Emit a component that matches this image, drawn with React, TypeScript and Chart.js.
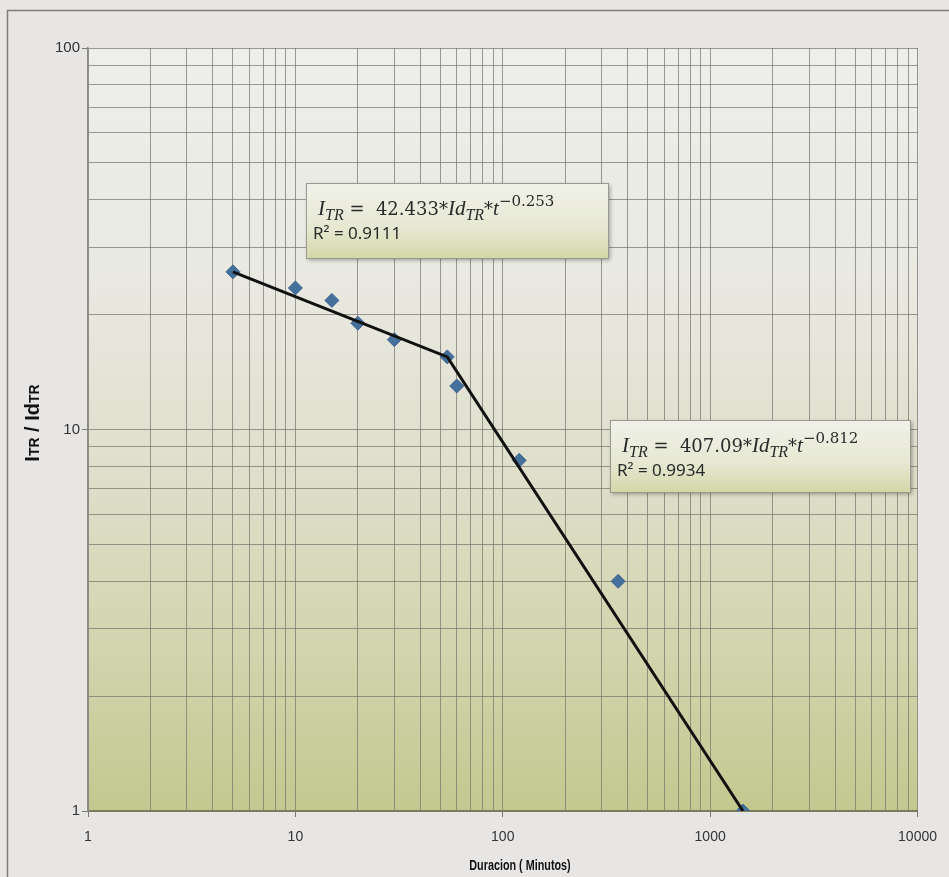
import React, { useEffect, useRef } from "react";
import { Chart, registerables } from "chart.js";
Chart.register(...registerables);

// ---- data ----
const durations = [5, 10, 15, 20, 30, 54, 60, 120, 360, 1440];
const ratios = [25.9, 23.5, 21.8, 19.0, 17.2, 15.5, 13.0, 8.3, 4.0, 1.0];
const fitDurations = [5, 54, 1440];
const fitRatios = [25.9, 15.5, 1.0];
const xMajorTicks = [1, 10, 100, 1000, 10000];
const yMajorTicks = [1, 10, 100];
const minorSteps = [1, 2, 3, 4, 5, 6, 7, 8, 9];
const fit1Coef = "42.433";
const fit1Exp = "\u22120.253";
const fit1R2 = "R\u00B2 = 0.9111";
const fit2Coef = "407.09";
const fit2Exp = "\u22120.812";
const fit2R2 = "R\u00B2 = 0.9934";
const xTitle = "Duracion ( Minutos)";

function buildTicks(majors: number[]) {
  const out: number[] = [];
  for (let i = 0; i < majors.length - 1; i++) {
    for (const m of minorSteps) out.push(m * majors[i]);
  }
  out.push(majors[majors.length - 1]);
  return out;
}

type Seg = { t: string; f: string; dy?: number };

function drawSegs(ctx: CanvasRenderingContext2D, segs: Seg[], x: number, y: number) {
  let cx = x;
  for (const s of segs) {
    ctx.font = s.f;
    ctx.fillText(s.t, cx, y + (s.dy || 0));
    cx += ctx.measureText(s.t).width;
  }
  return cx - x;
}

function eqSegs(coef: string, exp: string): Seg[] {
  const it = "italic 21px 'Liberation Serif', serif";
  const sub = "italic 16px 'Liberation Serif', serif";
  const up = "18px 'DejaVu Serif', serif";
  const sm = "15px 'DejaVu Serif', serif";
  return [
    { t: "I", f: it },
    { t: "TR", f: sub, dy: 5 },
    { t: " =  ", f: up },
    { t: coef, f: up },
    { t: "*", f: up },
    { t: "Id", f: it },
    { t: "TR", f: sub, dy: 5 },
    { t: "*", f: up },
    { t: "t", f: it },
    { t: exp, f: sm, dy: -9 },
  ];
}

const decorPlugin = {
  id: "decor",
  beforeDraw(chart: any) {
    const { ctx, chartArea: a, width, height } = chart;
    ctx.save();
    ctx.fillStyle = "#e8e6e5";
    ctx.fillRect(0, 0, width, height);
    ctx.strokeStyle = "#7d7d7d";
    ctx.lineWidth = 1.5;
    ctx.strokeRect(7.5, 10.5, width + 20, height + 20);
    const g = ctx.createLinearGradient(0, a.top, 0, a.bottom);
    g.addColorStop(0, "#eeeeeb");
    g.addColorStop(0.3, "#e9e9e2");
    g.addColorStop(0.55, "#dfdfcc");
    g.addColorStop(0.8, "#d1d4ac");
    g.addColorStop(1, "#c3c88f");
    ctx.fillStyle = g;
    ctx.fillRect(a.left, a.top, a.right - a.left, a.bottom - a.top);
    ctx.restore();
  },
  afterDraw(chart: any) {
    const { ctx, chartArea: a } = chart;
    ctx.save();
    const boxes = [
      { x: a.left + 218, y: a.top + 135, w: 302, h: 75, coef: fit1Coef, exp: fit1Exp, r2: fit1R2 },
      { x: a.left + 522, y: a.top + 372, w: 300, h: 72, coef: fit2Coef, exp: fit2Exp, r2: fit2R2 },
    ];
    for (const b of boxes) {
      ctx.save();
      ctx.shadowColor = "rgba(0,0,0,0.35)";
      ctx.shadowBlur = 4;
      ctx.shadowOffsetX = 2;
      ctx.shadowOffsetY = 2;
      const g = ctx.createLinearGradient(0, b.y, 0, b.y + b.h);
      g.addColorStop(0, "#f1f1ea");
      g.addColorStop(0.6, "#e6e8d2");
      g.addColorStop(1, "#d3d8a8");
      ctx.fillStyle = g;
      ctx.fillRect(b.x, b.y, b.w, b.h);
      ctx.restore();
      ctx.strokeStyle = "#9a9a90";
      ctx.lineWidth = 1;
      ctx.strokeRect(b.x + 0.5, b.y + 0.5, b.w, b.h);
      ctx.fillStyle = "#2a2a2a";
      ctx.textBaseline = "alphabetic";
      drawSegs(ctx, eqSegs(b.coef, b.exp), b.x + 12, b.y + 32);
      ctx.font = "17px 'Noto Sans', 'Liberation Sans', sans-serif";
      ctx.fillText(b.r2, b.x + 7, b.y + 56);
    }
    // y axis title
    ctx.save();
    ctx.translate(32, 423);
    ctx.rotate(-Math.PI / 2);
    ctx.fillStyle = "#111";
    const big = "bold 20px 'Liberation Sans', sans-serif";
    const small = "bold 14px 'Liberation Sans', sans-serif";
    const ysegs: Seg[] = [
      { t: "I", f: big },
      { t: "TR", f: small },
      { t: " / Id", f: big },
      { t: "TR", f: small },
    ];
    let tw = 0;
    for (const s of ysegs) {
      ctx.font = s.f;
      tw += ctx.measureText(s.t).width;
    }
    drawSegs(ctx, ysegs, -tw / 2, 7);
    ctx.restore();
    // x axis title (condensed)
    ctx.save();
    ctx.fillStyle = "#111";
    ctx.font = "bold 15px 'Liberation Sans', sans-serif";
    ctx.textAlign = "center";
    ctx.textBaseline = "middle";
    ctx.translate(520, 866);
    ctx.scale(0.72, 1);
    ctx.fillText(xTitle, 0, 0);
    ctx.restore();
    ctx.restore();
  },
};

export default function App() {
  const ref = useRef<HTMLCanvasElement | null>(null);
  useEffect(() => {
    if (!ref.current) return;
    const xTicks = buildTicks(xMajorTicks);
    const yTicks = buildTicks(yMajorTicks);
    const gridColor = "rgba(115,115,108,0.7)";
    const chart = new Chart(ref.current, {
      type: "scatter",
      data: {
        datasets: [
          {
            type: "line",
            data: fitDurations.map((x, i) => ({ x, y: fitRatios[i] })),
            borderColor: "#111",
            borderWidth: 3,
            pointRadius: 0,
            fill: false,
          },
          {
            type: "scatter",
            data: durations.map((x, i) => ({ x, y: ratios[i] })),
            pointStyle: "rectRot",
            pointRadius: 7,
            backgroundColor: "#46709c",
            borderColor: "#3f6690",
            borderWidth: 1,
          },
        ],
      } as any,
      options: {
        animation: false,
        responsive: true,
        maintainAspectRatio: false,
        layout: { padding: { left: 0, top: 48, right: 28, bottom: 0 } },
        plugins: { legend: { display: false }, tooltip: { enabled: false } },
        scales: {
          x: {
            type: "logarithmic",
            min: 1,
            max: 10000,
            afterFit: (s: any) => {
              s.height = 66;
            },
            afterBuildTicks: (s: any) => {
              s.ticks = xTicks.map((v) => ({ value: v }));
            },
            ticks: {
              autoSkip: false,
              maxRotation: 0,
              padding: 12,
              color: "#333",
              font: { family: "'Liberation Sans', sans-serif", size: 14 },
              callback: (v: any) => (xMajorTicks.includes(Number(v)) ? String(v) : ""),
            },
            grid: {
              color: gridColor,
              lineWidth: 1,
              tickLength: 6,
              tickColor: (c: any) => (c.tick && xMajorTicks.includes(c.tick.value) ? "#777" : "rgba(0,0,0,0)"),
            },
            border: { display: true, color: "#7b7b5a", width: 2 },
          },
          y: {
            type: "logarithmic",
            min: 1,
            max: 100,
            afterFit: (s: any) => {
              s.width = 88;
            },
            afterBuildTicks: (s: any) => {
              s.ticks = yTicks.map((v) => ({ value: v }));
            },
            ticks: {
              autoSkip: false,
              padding: 2,
              color: "#333",
              font: { family: "'Liberation Sans', sans-serif", size: 15 },
              callback: (v: any) => (yMajorTicks.includes(Number(v)) ? String(v) : ""),
            },
            grid: {
              color: gridColor,
              lineWidth: 1,
              tickLength: 6,
              tickColor: (c: any) => (c.tick && yMajorTicks.includes(c.tick.value) ? "#777" : "rgba(0,0,0,0)"),
            },
            border: { display: true, color: "#8a8a85", width: 1.5 },
          },
        },
      },
      plugins: [decorPlugin],
    } as any);
    return () => chart.destroy();
  }, []);
  return (
    <div style={{ position: "absolute", left: 0, top: 0, width: 949, height: 877 }}>
      <canvas ref={ref} />
    </div>
  );
}
